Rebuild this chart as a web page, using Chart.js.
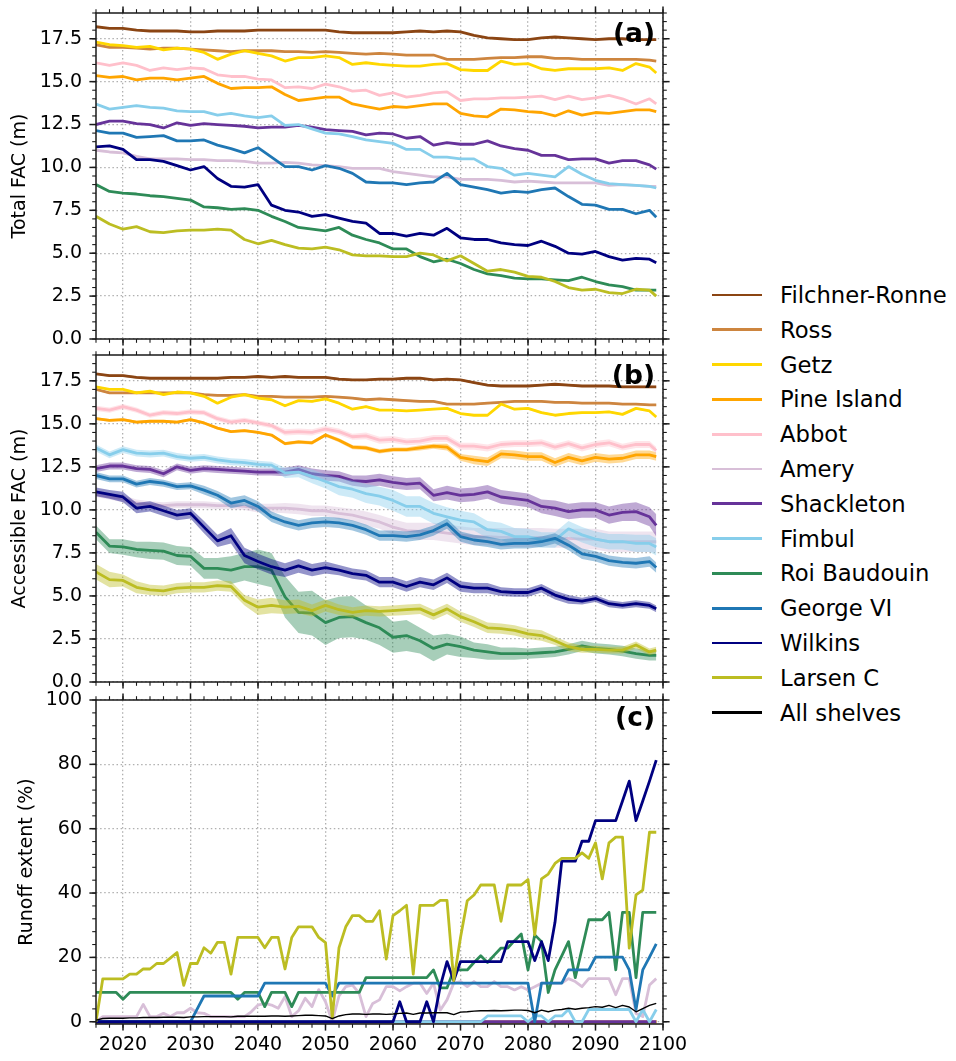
<!DOCTYPE html>
<html>
<head>
<meta charset="utf-8">
<title>Firn air content and runoff extent</title>
<script src="https://cdn.jsdelivr.net/npm/chart.js@4.4.1/dist/chart.umd.min.js"></script>
<style>
    body { margin: 0; background: #ffffff; }
    #figure { position: relative; width: 956px; height: 1061px; overflow: hidden; font-family: "DejaVu Sans", sans-serif; }
    #figure canvas { position: absolute; left: 0; }
    #legend { position: absolute; left: 712px; top: 0; width: 244px; height: 1061px; }
    .legend-row { position: absolute; left: 0; width: 244px; height: 30px; }
    .legend-line { position: absolute; left: 0; top: 13.6px; width: 50px; height: 2.8px; }
    .legend-text { position: absolute; left: 68px; top: 0; line-height: 30px; font-size: 22.7px; color: #000; white-space: nowrap; }
</style>
</head>
<body>
<div id="figure">
    <canvas id="chartTotal" width="700" height="352" style="top:0px;width:700px;height:352px"></canvas>
    <canvas id="chartAccess" width="700" height="350" style="top:345px;width:700px;height:350px"></canvas>
    <canvas id="chartRunoff" width="700" height="371" style="top:690px;width:700px;height:371px"></canvas>
    <div id="legend"></div>
</div>
<script>
// years for panels (a) and (b), read every second year
var yearsFac = [2016, 2018, 2020, 2022, 2024, 2026, 2028, 2030, 2032, 2034,
    2036, 2038, 2040, 2042, 2044, 2046, 2048, 2050, 2052, 2054,
    2056, 2058, 2060, 2062, 2064, 2066, 2068, 2070, 2072, 2074,
    2076, 2078, 2080, 2082, 2084, 2086, 2088, 2090, 2092, 2094,
    2096, 2098, 2099];

// years for panel (c), every year
var yearsRunoff = [2016, 2017, 2018, 2019, 2020, 2021, 2022, 2023, 2024, 2025,
    2026, 2027, 2028, 2029, 2030, 2031, 2032, 2033, 2034, 2035,
    2036, 2037, 2038, 2039, 2040, 2041, 2042, 2043, 2044, 2045,
    2046, 2047, 2048, 2049, 2050, 2051, 2052, 2053, 2054, 2055,
    2056, 2057, 2058, 2059, 2060, 2061, 2062, 2063, 2064, 2065,
    2066, 2067, 2068, 2069, 2070, 2071, 2072, 2073, 2074, 2075,
    2076, 2077, 2078, 2079, 2080, 2081, 2082, 2083, 2084, 2085,
    2086, 2087, 2088, 2089, 2090, 2091, 2092, 2093, 2094, 2095,
    2096, 2097, 2098, 2099];

var xTicks = [2020, 2030, 2040, 2050, 2060, 2070, 2080, 2090, 2100];
var facTicks = [0, 2.5, 5, 7.5, 10, 12.5, 15, 17.5];
var runoffTicks = [0, 20, 40, 60, 80, 100];

// (a) total FAC (m)
var totFR = [18.2, 18.1, 18.1, 18.0, 17.95, 17.95, 17.95, 17.9, 17.9, 17.95,
    17.95, 17.95, 18.0, 18.0, 18.0, 18.0, 18.0, 18.0, 17.9, 17.85,
    17.85, 17.85, 17.85, 17.9, 17.95, 17.9, 17.95, 17.9, 17.7, 17.55,
    17.5, 17.45, 17.45, 17.55, 17.6, 17.55, 17.5, 17.45, 17.5, 17.5,
    17.45, 17.45, 17.45];
var totRoss = [17.15, 17.0, 17.0, 16.95, 16.9, 16.95, 16.95, 16.9, 16.85, 16.8,
    16.75, 16.8, 16.8, 16.8, 16.75, 16.75, 16.7, 16.75, 16.7, 16.65,
    16.6, 16.65, 16.6, 16.55, 16.55, 16.55, 16.3, 16.3, 16.3, 16.35,
    16.4, 16.4, 16.45, 16.45, 16.35, 16.35, 16.3, 16.3, 16.3, 16.3,
    16.3, 16.25, 16.2];
var totGetz = [17.3, 17.15, 17.1, 17.0, 17.05, 16.85, 16.95, 16.9, 16.7, 16.3,
    16.6, 16.8, 16.65, 16.5, 16.2, 16.4, 16.4, 16.5, 16.4, 16.0,
    16.1, 16.0, 15.95, 15.9, 15.9, 16.0, 16.05, 15.7, 15.65, 15.65,
    16.2, 16.0, 16.05, 15.75, 15.65, 15.75, 15.75, 15.75, 15.8, 15.65,
    16.05, 15.85, 15.5];
var totPine = [15.35, 15.25, 15.3, 15.1, 15.2, 15.2, 15.1, 15.2, 15.3, 14.9,
    14.6, 14.65, 14.65, 14.7, 14.25, 13.9, 14.0, 14.1, 14.1, 13.7,
    13.55, 13.4, 13.55, 13.5, 13.6, 13.7, 13.7, 13.15, 13.0, 12.95,
    13.4, 13.35, 13.25, 13.2, 13.0, 13.3, 13.05, 13.2, 13.15, 13.25,
    13.35, 13.35, 13.25];
var totAbbot = [16.1, 15.95, 16.1, 15.95, 15.65, 15.8, 15.7, 15.8, 15.75, 15.4,
    15.3, 15.3, 15.15, 15.1, 14.65, 14.7, 14.6, 14.85, 14.7, 14.45,
    14.5, 14.2, 14.35, 14.1, 14.2, 14.35, 14.4, 13.9, 14.0, 14.0,
    14.05, 14.05, 14.1, 14.15, 13.95, 14.15, 13.95, 14.05, 14.2, 14.0,
    13.7, 14.0, 13.7];
var totAmery = [11.0, 10.9, 10.85, 10.65, 10.5, 10.5, 10.5, 10.45, 10.45, 10.4,
    10.4, 10.35, 10.25, 10.25, 10.3, 10.25, 10.15, 10.1, 10.05, 9.95,
    9.95, 9.95, 9.75, 9.65, 9.55, 9.45, 9.45, 9.3, 9.3, 9.3,
    9.25, 9.15, 9.2, 9.15, 9.1, 9.1, 9.1, 9.1, 8.95, 9.0,
    8.95, 8.9, 8.9];
var totShack = [12.5, 12.7, 12.7, 12.55, 12.5, 12.3, 12.6, 12.45, 12.55, 12.5,
    12.45, 12.4, 12.3, 12.35, 12.35, 12.45, 12.35, 12.2, 12.15, 12.1,
    11.9, 12.0, 11.95, 11.7, 11.8, 11.3, 11.45, 11.35, 11.35, 11.55,
    11.25, 11.1, 11.0, 10.7, 10.7, 10.45, 10.5, 10.5, 10.25, 10.4,
    10.4, 10.15, 9.9];
var totFimbul = [13.7, 13.4, 13.5, 13.6, 13.5, 13.45, 13.3, 13.25, 13.25, 13.05,
    13.15, 13.0, 12.9, 13.0, 12.45, 12.5, 12.25, 12.0, 11.95, 11.8,
    11.6, 11.5, 11.4, 11.05, 11.05, 10.6, 10.6, 10.5, 10.5, 10.05,
    9.95, 9.55, 9.65, 9.55, 9.45, 10.05, 9.6, 9.25, 9.05, 9.0,
    8.95, 8.9, 8.8];
var totRoi = [9.0, 8.6, 8.5, 8.45, 8.35, 8.3, 8.2, 8.1, 7.7, 7.65,
    7.55, 7.6, 7.5, 7.15, 6.85, 6.5, 6.4, 6.3, 6.5, 6.05,
    5.8, 5.6, 5.25, 5.25, 4.8, 4.5, 4.65, 4.4, 4.05, 3.8,
    3.7, 3.55, 3.5, 3.5, 3.45, 3.4, 3.6, 3.35, 3.15, 3.05,
    2.85, 2.85, 2.85];
var totGeorge = [12.15, 12.0, 12.0, 11.75, 11.8, 11.85, 11.55, 11.55, 11.6, 11.3,
    11.1, 10.85, 11.15, 10.6, 10.05, 10.05, 9.85, 10.1, 9.95, 9.65,
    9.15, 9.1, 9.1, 9.0, 9.1, 9.15, 9.65, 9.0, 8.85, 8.7,
    8.5, 8.6, 8.55, 8.7, 8.8, 8.3, 7.85, 7.8, 7.55, 7.55,
    7.3, 7.5, 7.1];
var totWilkins = [11.2, 11.25, 11.05, 10.45, 10.45, 10.35, 10.1, 9.85, 10.05, 9.35,
    8.9, 8.85, 9.0, 7.8, 7.5, 7.4, 7.15, 7.25, 7.05, 6.85,
    6.75, 6.15, 6.15, 6.0, 6.15, 6.05, 6.45, 5.9, 5.8, 5.8,
    5.6, 5.5, 5.45, 5.7, 5.4, 5.0, 4.95, 5.1, 4.8, 4.6,
    4.7, 4.65, 4.45];
var totLarsen = [7.15, 6.7, 6.4, 6.55, 6.25, 6.2, 6.3, 6.35, 6.35, 6.4,
    6.35, 5.8, 5.55, 5.75, 5.5, 5.3, 5.25, 5.35, 5.2, 4.9,
    4.85, 4.85, 4.8, 4.8, 5.0, 4.9, 4.55, 4.85, 4.4, 3.95,
    4.05, 3.9, 3.65, 3.6, 3.35, 3.0, 2.85, 2.9, 2.7, 2.65,
    2.9, 2.85, 2.5];

// (b) accessible FAC (m)
var accFR = [17.9, 17.8, 17.8, 17.7, 17.65, 17.65, 17.65, 17.65, 17.65, 17.65,
    17.7, 17.7, 17.75, 17.7, 17.75, 17.7, 17.7, 17.7, 17.6, 17.55,
    17.55, 17.6, 17.6, 17.65, 17.65, 17.55, 17.6, 17.55, 17.4, 17.25,
    17.2, 17.2, 17.2, 17.25, 17.3, 17.25, 17.2, 17.2, 17.2, 17.15,
    17.15, 17.15, 17.15];
var accRoss = [17.0, 16.8, 16.8, 16.8, 16.8, 16.8, 16.8, 16.8, 16.7, 16.65,
    16.65, 16.7, 16.6, 16.6, 16.55, 16.55, 16.55, 16.6, 16.55, 16.5,
    16.4, 16.45, 16.4, 16.35, 16.3, 16.3, 16.15, 16.15, 16.15, 16.2,
    16.25, 16.3, 16.3, 16.3, 16.25, 16.25, 16.2, 16.2, 16.2, 16.15,
    16.15, 16.1, 16.1];
var accGetz = [17.15, 17.0, 17.0, 16.8, 16.9, 16.7, 16.85, 16.8, 16.6, 16.2,
    16.55, 16.7, 16.5, 16.4, 16.05, 16.35, 16.3, 16.45, 16.2, 15.85,
    16.0, 15.8, 15.8, 15.75, 15.8, 15.85, 15.9, 15.6, 15.5, 15.5,
    16.15, 15.85, 15.9, 15.65, 15.5, 15.6, 15.65, 15.65, 15.7, 15.55,
    15.9, 15.75, 15.4];
var accPine = [15.3, 15.2, 15.25, 15.1, 15.15, 15.15, 15.1, 15.25, 15.05, 14.75,
    14.55, 14.6, 14.5, 14.35, 13.85, 13.95, 13.9, 14.35, 14.05, 13.65,
    13.6, 13.4, 13.5, 13.5, 13.6, 13.7, 13.65, 13.05, 12.9, 12.8,
    13.25, 13.2, 13.1, 13.1, 12.75, 13.05, 12.85, 13.05, 12.95, 13.0,
    13.2, 13.2, 13.1];
var accAbbot = [15.9, 15.8, 16.0, 15.8, 15.5, 15.65, 15.6, 15.7, 15.65, 15.3,
    15.1, 15.2, 15.05, 14.9, 14.5, 14.55, 14.5, 14.7, 14.55, 14.25,
    14.3, 14.05, 14.1, 13.95, 14.0, 14.15, 14.15, 13.7, 13.7, 13.6,
    13.8, 13.85, 13.85, 13.9, 13.65, 13.85, 13.6, 13.8, 13.9, 13.65,
    13.8, 13.8, 13.45];
var accAmery = [10.9, 10.75, 10.65, 10.4, 10.3, 10.25, 10.3, 10.3, 10.3, 10.25,
    10.25, 10.2, 10.1, 10.1, 10.1, 10.05, 9.95, 9.95, 9.8, 9.7,
    9.5, 9.3, 9.0, 8.8, 8.75, 8.75, 8.65, 8.55, 8.45, 8.45,
    8.4, 8.4, 8.4, 8.4, 8.35, 8.35, 8.3, 8.3, 8.15, 8.15,
    8.15, 8.15, 8.15];
var accShack = [12.4, 12.55, 12.55, 12.4, 12.35, 12.1, 12.5, 12.3, 12.4, 12.35,
    12.3, 12.25, 12.2, 12.2, 12.2, 12.35, 12.1, 12.0, 11.95, 11.7,
    11.65, 11.75, 11.6, 11.5, 11.55, 10.85, 11.0, 10.85, 10.9, 11.05,
    10.75, 10.65, 10.55, 10.2, 10.1, 9.9, 10.0, 10.0, 9.7, 9.85,
    9.9, 9.6, 9.1];
var accFimbul = [13.6, 13.2, 13.5, 13.3, 13.25, 13.3, 13.1, 13.0, 13.05, 12.9,
    12.8, 12.75, 12.65, 12.6, 12.15, 12.2, 11.95, 11.65, 11.35, 11.2,
    10.95, 10.8, 10.55, 10.2, 10.2, 9.8, 9.6, 9.4, 9.3, 8.85,
    8.75, 8.45, 8.45, 8.25, 8.25, 8.9, 8.55, 8.3, 8.15, 8.15,
    8.05, 8.05, 7.85];
var accRoi = [8.7, 7.9, 7.85, 7.7, 7.65, 7.6, 7.35, 7.3, 6.6, 6.6,
    6.5, 6.7, 6.7, 6.5, 4.95, 4.05, 4.0, 3.45, 3.75, 3.8,
    3.45, 3.15, 2.6, 2.7, 2.4, 1.95, 2.2, 2.05, 1.85, 1.75,
    1.65, 1.65, 1.65, 1.7, 1.75, 1.9, 2.1, 1.95, 1.9, 1.8,
    1.65, 1.55, 1.55];
var accGeorge = [12.0, 11.8, 11.8, 11.5, 11.65, 11.55, 11.35, 11.4, 11.15, 10.85,
    10.4, 10.55, 10.2, 9.6, 9.3, 9.1, 9.25, 9.3, 9.25, 9.1,
    8.85, 8.5, 8.5, 8.45, 8.55, 8.8, 9.2, 8.45, 8.25, 8.15,
    8.0, 8.05, 8.05, 8.15, 8.35, 7.95, 7.45, 7.3, 7.05, 6.95,
    6.9, 7.0, 6.65];
var accWilkins = [11.05, 10.9, 10.75, 10.1, 10.2, 9.95, 9.7, 9.8, 9.0, 8.2,
    8.5, 7.35, 7.0, 6.7, 6.5, 6.75, 6.5, 6.65, 6.5, 6.3,
    6.2, 5.8, 5.8, 5.55, 5.8, 5.65, 6.05, 5.55, 5.45, 5.45,
    5.25, 5.2, 5.2, 5.45, 5.05, 4.8, 4.7, 4.85, 4.55, 4.45,
    4.55, 4.45, 4.25];
var accLarsen = [6.4, 5.95, 5.9, 5.5, 5.35, 5.3, 5.45, 5.5, 5.5, 5.6,
    5.55, 4.75, 4.35, 4.45, 4.35, 4.4, 4.15, 4.45, 4.2, 4.05,
    4.15, 4.1, 4.15, 4.2, 4.25, 3.9, 4.25, 3.8, 3.5, 3.15,
    3.1, 3.0, 2.8, 2.7, 2.4, 2.05, 1.9, 1.9, 1.85, 1.85,
    2.15, 1.75, 1.85];

// (b) half width of the shaded range, one value per four years
var sprFR = [0.06, 0.06, 0.06, 0.06, 0.06, 0.06, 0.06, 0.06, 0.06, 0.06, 0.06,
    0.06, 0.06, 0.06, 0.06, 0.06, 0.06, 0.06, 0.06, 0.06, 0.06, 0.06];
var sprRoss = [0.06, 0.06, 0.06, 0.06, 0.06, 0.06, 0.06, 0.06, 0.06, 0.06, 0.06,
    0.06, 0.06, 0.06, 0.06, 0.06, 0.06, 0.06, 0.06, 0.06, 0.06, 0.06];
var sprGetz = [0.06, 0.06, 0.06, 0.06, 0.06, 0.06, 0.06, 0.06, 0.06, 0.06, 0.06,
    0.06, 0.06, 0.06, 0.06, 0.06, 0.06, 0.06, 0.06, 0.06, 0.06, 0.06];
var sprPine = [0.08, 0.08, 0.08, 0.08, 0.08, 0.08, 0.08, 0.1, 0.1, 0.12, 0.12,
    0.12, 0.15, 0.2, 0.25, 0.25, 0.25, 0.25, 0.25, 0.25, 0.25, 0.25];
var sprAbbot = [0.15, 0.15, 0.15, 0.15, 0.15, 0.15, 0.15, 0.18, 0.18, 0.18, 0.2,
    0.2, 0.2, 0.2, 0.2, 0.2, 0.2, 0.2, 0.2, 0.2, 0.2, 0.2];
var sprAmery = [0.15, 0.2, 0.2, 0.2, 0.2, 0.2, 0.25, 0.3, 0.3, 0.35, 0.4,
    0.45, 0.5, 0.5, 0.5, 0.55, 0.55, 0.55, 0.6, 0.6, 0.6, 0.6];
var sprShack = [0.2, 0.2, 0.2, 0.2, 0.2, 0.2, 0.2, 0.25, 0.3, 0.3, 0.35,
    0.35, 0.35, 0.4, 0.4, 0.4, 0.4, 0.45, 0.45, 0.5, 0.55, 0.65];
var sprFimbul = [0.2, 0.2, 0.2, 0.2, 0.2, 0.2, 0.2, 0.3, 0.4, 0.5, 0.55,
    0.6, 0.6, 0.55, 0.5, 0.5, 0.45, 0.45, 0.45, 0.45, 0.5, 0.5];
var sprRoi = [0.4, 0.45, 0.5, 0.55, 0.6, 0.8, 1.0, 1.2, 1.3, 1.2, 1.0,
    0.9, 0.75, 0.6, 0.45, 0.35, 0.3, 0.3, 0.3, 0.3, 0.3, 0.3];
var sprGeorge = [0.2, 0.2, 0.2, 0.2, 0.25, 0.3, 0.3, 0.3, 0.3, 0.3, 0.3,
    0.3, 0.3, 0.3, 0.3, 0.3, 0.3, 0.3, 0.3, 0.3, 0.3, 0.3];
var sprWilkins = [0.25, 0.3, 0.3, 0.3, 0.35, 0.45, 0.45, 0.4, 0.35, 0.3, 0.3,
    0.3, 0.3, 0.3, 0.3, 0.25, 0.25, 0.25, 0.2, 0.2, 0.2, 0.2];
var sprLarsen = [0.45, 0.35, 0.3, 0.3, 0.3, 0.3, 0.45, 0.4, 0.35, 0.3, 0.3,
    0.3, 0.3, 0.3, 0.3, 0.3, 0.3, 0.25, 0.2, 0.2, 0.2, 0.2];

// (c) runoff extent (%)
var runZero = [0, 0, 0, 0, 0, 0, 0, 0, 0, 0, 0, 0, 0, 0, 0, 0, 0, 0, 0, 0,
    0, 0, 0, 0, 0, 0, 0, 0, 0, 0, 0, 0, 0, 0, 0, 0, 0, 0, 0, 0,
    0, 0, 0, 0, 0, 0, 0, 0, 0, 0, 0, 0, 0, 0, 0, 0, 0, 0, 0, 0,
    0, 0, 0, 0, 0, 0, 0, 0, 0, 0, 0, 0, 0, 0, 0, 0, 0, 0, 0, 0,
    0, 0, 0, 0];
var runAmery = [0, 1.6, 1.6, 1.6, 1.6, 1.6, 1.6, 5.4, 1.6, 1.6,
    2.6, 1.6, 2.8, 2.8, 4.2, 2.8, 2.6, 1.6, 1.6, 1.6,
    1.6, 1.6, 1.6, 3.1, 5.2, 5.7, 5.2, 4.2, 7.8, 1.6,
    3.4, 7.3, 4.7, 10.0, 6.2, 0, 8.0, 10.9, 11.4, 8.8,
    1.6, 5.7, 6.8, 10.9, 10.9, 9.6, 10.9, 12.0, 12.0, 8.8,
    12.0, 3.6, 6.8, 12.0, 12.5, 10.9, 12.5, 10.9, 10.9, 12.5,
    10.9, 10.9, 9.9, 10.9, 9.9, 10.9, 12.0, 12.0, 12.0, 12.0,
    13.4, 12.5, 10.9, 13.4, 13.4, 13.4, 13.4, 8.4, 13.4, 13.4,
    2.6, 1.6, 11.4, 13.4];
var runFimbul = [0, 0, 0, 0, 0, 0, 0, 0, 0, 0,
    0, 0, 0, 0, 0, 0, 0, 0, 0, 0,
    0, 0, 0, 0, 0, 0, 0, 0, 0, 0,
    0, 0, 0, 0, 0, 0, 0, 0, 0, 0,
    0, 0, 0, 0, 0, 0, 0, 0, 0, 0,
    0, 0, 0, 0, 0, 0, 0, 0, 1.8, 1.8,
    1.8, 1.8, 1.8, 1.8, 0, 1.8, 1.8, 0, 1.8, 1.8,
    3.8, 0, 0, 3.8, 3.8, 3.8, 3.8, 3.8, 3.8, 3.8,
    0, 3.8, 0, 3.8];
var runRoi = [9.1, 9.1, 9.1, 9.1, 7.0, 9.1, 9.1, 9.1, 9.1, 9.1,
    9.1, 9.1, 9.1, 9.1, 9.1, 9.1, 9.1, 9.1, 9.1, 9.1,
    9.1, 7.0, 9.1, 9.1, 9.1, 4.7, 9.1, 9.1, 9.1, 4.7,
    9.1, 9.1, 9.1, 9.1, 9.1, 9.1, 9.1, 9.1, 9.1, 9.1,
    13.7, 13.7, 13.7, 13.7, 13.7, 13.7, 13.7, 13.7, 13.7, 13.7,
    16.1, 10.5, 10.5, 16.1, 16.1, 16.1, 18.4, 20.5, 18.4, 20.7,
    22.9, 22.9, 25.2, 27.3, 16.1, 27.0, 24.9, 9.1, 16.1, 20.5,
    24.9, 13.7, 22.7, 31.7, 31.7, 31.7, 34.0, 16.1, 34.0, 34.0,
    13.7, 34.0, 34.0, 34.0];
var runGeorge = [0, 0, 0, 0, 0, 0, 0, 0, 0, 0,
    0, 0, 0, 0, 0, 4.0, 8.0, 8.0, 8.0, 8.0,
    8.0, 8.0, 8.0, 8.0, 8.0, 12.0, 12.0, 12.0, 12.0, 12.0,
    12.0, 12.0, 12.0, 12.0, 12.0, 8.0, 12.0, 12.0, 12.0, 12.0,
    12.0, 12.0, 12.0, 12.0, 12.0, 12.0, 12.0, 12.0, 12.0, 12.0,
    12.0, 12.0, 12.0, 12.0, 12.0, 12.0, 12.0, 12.0, 12.0, 12.0,
    12.0, 12.0, 12.0, 12.0, 12.0, 0, 12.0, 12.0, 12.0, 12.0,
    16.1, 16.1, 16.1, 16.1, 20.1, 20.1, 20.1, 20.1, 20.1, 16.1,
    3.8, 16.1, 20.1, 24.2];
var runWilkins = [0, 0, 0, 0, 0, 0, 0, 0, 0, 0,
    0, 0, 0, 0, 0, 0, 0, 0, 0, 0,
    0, 0, 0, 0, 0, 0, 0, 0, 0, 0,
    0, 0, 0, 0, 0, 0, 0, 0, 0, 0,
    0, 0, 0, 0, 0, 6.2, 0, 0, 0, 6.2,
    0, 11.0, 18.7, 12.8, 18.7, 18.7, 18.7, 18.7, 18.7, 18.7,
    18.7, 24.9, 24.9, 24.9, 24.9, 19.0, 24.9, 19.0, 30.9, 49.9,
    49.9, 49.9, 56.1, 56.1, 62.5, 62.5, 62.5, 62.5, 68.6, 74.8,
    62.5, 68.6, 74.8, 81.3];
var runLarsen = [0, 13.3, 13.3, 13.3, 13.3, 14.8, 14.8, 16.4, 16.4, 18.1,
    18.1, 19.8, 21.5, 11.3, 18.1, 18.1, 23.0, 21.3, 24.7, 24.7,
    14.8, 26.2, 26.2, 26.2, 26.2, 23.0, 26.2, 26.2, 16.4, 26.2,
    29.5, 29.5, 29.5, 26.2, 24.6, 1.2, 23.0, 29.5, 33.0, 33.0,
    31.2, 31.2, 34.5, 19.5, 33.0, 34.5, 36.2, 14.8, 36.2, 36.2,
    36.2, 37.7, 37.7, 12.8, 26.2, 37.6, 39.4, 42.5, 42.5, 42.5,
    31.2, 42.5, 42.5, 42.5, 44.2, 27.0, 44.4, 45.9, 49.2, 50.8,
    50.8, 50.8, 52.5, 50.8, 55.6, 44.4, 55.6, 57.4, 57.4, 22.9,
    39.4, 40.9, 58.9, 58.9];
var runAll = [0.5, 1.0, 1.1, 1.1, 1.1, 1.2, 1.2, 1.3, 1.3, 1.3,
    1.4, 1.4, 1.4, 1.3, 1.5, 1.5, 1.6, 1.6, 1.6, 1.6,
    1.5, 1.7, 1.7, 1.7, 1.7, 1.7, 1.8, 1.8, 1.7, 1.8,
    1.9, 2.0, 2.0, 1.9, 1.8, 1.0, 1.8, 2.2, 2.4, 2.4,
    2.3, 2.4, 2.4, 2.3, 2.4, 2.6, 2.7, 2.3, 2.7, 2.7,
    2.8, 2.8, 2.8, 2.2, 3.0, 3.1, 3.3, 3.4, 3.4, 3.5,
    3.4, 3.5, 3.6, 3.6, 3.5, 2.8, 3.6, 3.1, 3.6, 3.8,
    4.2, 3.9, 4.2, 4.4, 4.7, 4.5, 5.1, 4.4, 5.1, 4.6,
    3.1, 4.1, 5.1, 5.7];

var shelves = [
    {name: 'Filchner-Ronne', color: '#8b4513', total: totFR, access: accFR, spread: sprFR, runoff: runZero},
    {name: 'Ross', color: '#cd853f', total: totRoss, access: accRoss, spread: sprRoss, runoff: runZero},
    {name: 'Getz', color: '#ffd700', total: totGetz, access: accGetz, spread: sprGetz, runoff: runZero},
    {name: 'Pine Island', color: '#ffa500', total: totPine, access: accPine, spread: sprPine, runoff: runZero},
    {name: 'Abbot', color: '#ffc0cb', total: totAbbot, access: accAbbot, spread: sprAbbot, runoff: runZero},
    {name: 'Amery', color: '#d8bfd8', total: totAmery, access: accAmery, spread: sprAmery, runoff: runAmery},
    {name: 'Shackleton', color: '#663399', total: totShack, access: accShack, spread: sprShack, runoff: runZero},
    {name: 'Fimbul', color: '#87ceeb', total: totFimbul, access: accFimbul, spread: sprFimbul, runoff: runFimbul},
    {name: 'Roi Baudouin', color: '#2e8b57', total: totRoi, access: accRoi, spread: sprRoi, runoff: runRoi},
    {name: 'George VI', color: '#1f77b4', total: totGeorge, access: accGeorge, spread: sprGeorge, runoff: runGeorge},
    {name: 'Wilkins', color: '#000080', total: totWilkins, access: accWilkins, spread: sprWilkins, runoff: runWilkins},
    {name: 'Larsen C', color: '#bcbd22', total: totLarsen, access: accLarsen, spread: sprLarsen, runoff: runLarsen}
];
var allShelves = {name: 'All shelves', color: '#000000', runoff: runAll};

Chart.defaults.font.family = '"DejaVu Sans", sans-serif';
Chart.defaults.color = '#000000';

// frame, ticks on all four sides (majors and minors) and the panel letter
var frameTicks = {
    id: 'frameTicks',
    afterDraw: function (chart, args, opts) {
        var ctx = chart.ctx;
        var area = chart.chartArea;
        var sx = chart.scales.x;
        var sy = chart.scales.y;
        var k, n, v, start;

        ctx.save();
        ctx.strokeStyle = '#1a1a1a';

        function seg(x1, y1, x2, y2, w) {
            ctx.lineWidth = w;
            ctx.beginPath();
            ctx.moveTo(x1, y1);
            ctx.lineTo(x2, y2);
            ctx.stroke();
        }
        function xTick(val, len, w) {
            var px = sx.getPixelForValue(val);
            seg(px, area.bottom, px, area.bottom + len, w);
            seg(px, area.top, px, area.top - len, w);
        }
        function yTick(val, len, w) {
            var py = sy.getPixelForValue(val);
            seg(area.left, py, area.left - len, py, w);
            seg(area.right, py, area.right + len, py, w);
        }

        n = Math.round((sx.max - sx.min) / opts.xMinor);
        for (k = 0; k <= n; k++) {
            v = sx.min + k * opts.xMinor;
            xTick(v, 3.8, 1.1);
        }
        start = Math.ceil(sy.min / opts.yMinor - 1e-9) * opts.yMinor;
        n = Math.round((sy.max - start) / opts.yMinor);
        for (k = 0; k <= n; k++) {
            v = start + k * opts.yMinor;
            if (v <= sy.max + 1e-9) yTick(v, 3.8, 1.1);
        }
        sx.ticks.forEach(function (t) { xTick(t.value, 6.6, 1.5); });
        sy.ticks.forEach(function (t) { yTick(t.value, 6.6, 1.5); });

        ctx.lineWidth = 1.5;
        ctx.strokeRect(area.left, area.top, area.right - area.left, area.bottom - area.top);

        ctx.fillStyle = '#000000';
        ctx.font = 'bold 26.5px "DejaVu Sans", sans-serif';
        ctx.textAlign = 'right';
        ctx.textBaseline = 'middle';
        ctx.fillText(opts.label, area.right - 8, area.top + opts.labelDy);
        ctx.restore();
    }
};

function toPoints(xs, ys) {
    var out = [];
    for (var i = 0; i < xs.length; i++) {
        out.push({x: xs[i], y: ys[i]});
    }
    return out;
}

function bandPoints(xs, ys, spread, sign) {
    var out = [];
    for (var i = 0; i < xs.length; i++) {
        var s = spread[Math.min(Math.floor(i / 2), spread.length - 1)];
        out.push({x: xs[i], y: ys[i] + sign * s});
    }
    return out;
}

function rgba(hex, a) {
    var r = parseInt(hex.substr(1, 2), 16);
    var g = parseInt(hex.substr(3, 2), 16);
    var b = parseInt(hex.substr(5, 2), 16);
    return 'rgba(' + r + ',' + g + ',' + b + ',' + a + ')';
}

function FacFigure() {
    this.seq = 0;
}

FacFigure.prototype.init = function () {
    this.checkData();
    this.drawTotal();
    this.drawAccess();
    this.drawRunoff();
    this.drawLegend();
};

FacFigure.prototype.checkData = function () {
    shelves.forEach(function (s) {
        if (s.total.length !== yearsFac.length || s.access.length !== yearsFac.length ||
            s.runoff.length !== yearsRunoff.length || s.spread.length !== 22) {
            throw new Error('bad length for ' + s.name + ' ' + s.total.length + ' ' +
                s.access.length + ' ' + s.runoff.length + ' ' + s.spread.length);
        }
    });
    if (runAll.length !== yearsRunoff.length) throw new Error('bad length runAll ' + runAll.length);
};

FacFigure.prototype.lineSet = function (label, color, data, width) {
    this.seq += 1;
    return {
        label: label,
        data: data,
        borderColor: color,
        backgroundColor: color,
        borderWidth: width,
        pointRadius: 0,
        tension: 0,
        fill: false,
        borderJoinStyle: 'round',
        order: 1000 - this.seq
    };
};

FacFigure.prototype.options = function (p) {
    return {
        responsive: false,
        animation: false,
        devicePixelRatio: 1,
        events: [],
        parsing: false,
        layout: {padding: {top: p.padTop, right: 37, bottom: 0, left: 0}},
        plugins: {
            legend: {display: false},
            tooltip: {enabled: false},
            frameTicks: {label: p.label, labelDy: p.labelDy, xMinor: 2, yMinor: p.yMinor}
        },
        scales: {
            x: {
                type: 'linear',
                min: 2016,
                max: 2100,
                afterFit: function (s) {
                    s.height = p.xHeight;
                    s.paddingLeft = 0;
                    s.paddingRight = 0;
                },
                afterBuildTicks: function (s) {
                    s.ticks = xTicks.map(function (v) { return {value: v}; });
                },
                ticks: {
                    display: p.showX,
                    padding: 10,
                    maxRotation: 0,
                    autoSkip: false,
                    color: '#000000',
                    font: {size: 19},
                    callback: function (v) { return String(v); }
                },
                grid: {color: '#b0b0b0', lineWidth: 1.3, drawTicks: false},
                border: {display: false, dash: [1.5, 2.6]}
            },
            y: {
                type: 'linear',
                min: p.yMin,
                max: p.yMax,
                afterFit: function (s) {
                    s.width = 96;
                    s.paddingTop = 0;
                    s.paddingBottom = 0;
                },
                afterBuildTicks: function (s) {
                    s.ticks = p.yTicks.map(function (v) { return {value: v}; });
                },
                ticks: {
                    padding: 14,
                    color: '#000000',
                    font: {size: 19},
                    callback: p.yFormat
                },
                grid: {color: '#b0b0b0', lineWidth: 1.3, drawTicks: false},
                border: {display: false, dash: [1.5, 2.6]},
                title: {
                    display: true,
                    text: p.yTitle,
                    color: '#000000',
                    font: {size: 19},
                    padding: {top: p.titlePad, bottom: 0}
                }
            }
        }
    };
};

FacFigure.prototype.drawTotal = function () {
    var obj = this;
    var sets = [];
    shelves.forEach(function (s) {
        sets.push(obj.lineSet(s.name, s.color, toPoints(yearsFac, s.total), 2.8));
    });
    new Chart(document.getElementById('chartTotal'), {
        type: 'line',
        data: {datasets: sets},
        options: obj.options({
            padTop: 13, xHeight: 13, showX: false, label: '(a)', labelDy: 22,
            yMin: 0, yMax: 19, yMinor: 0.5, yTicks: facTicks, yTitle: 'Total FAC (m)', titlePad: 9,
            yFormat: function (v) { return v.toFixed(1); }
        }),
        plugins: [frameTicks]
    });
};

FacFigure.prototype.drawAccess = function () {
    var obj = this;
    var sets = [];
    shelves.forEach(function (s) {
        var lower = obj.lineSet(s.name + ' low', 'rgba(0,0,0,0)', bandPoints(yearsFac, s.access, s.spread, -1), 0);
        var upper = obj.lineSet(s.name + ' high', 'rgba(0,0,0,0)', bandPoints(yearsFac, s.access, s.spread, 1), 0);
        upper.fill = '-1';
        upper.backgroundColor = rgba(s.color, 0.42);
        sets.push(lower);
        sets.push(upper);
        sets.push(obj.lineSet(s.name, s.color, toPoints(yearsFac, s.access), 2.8));
    });
    new Chart(document.getElementById('chartAccess'), {
        type: 'line',
        data: {datasets: sets},
        options: obj.options({
            padTop: 10, xHeight: 13, showX: false, label: '(b)', labelDy: 22,
            yMin: 0, yMax: 19, yMinor: 0.5, yTicks: facTicks, yTitle: 'Accessible FAC (m)', titlePad: 9,
            yFormat: function (v) { return v.toFixed(1); }
        }),
        plugins: [frameTicks]
    });
};

FacFigure.prototype.drawRunoff = function () {
    var obj = this;
    var sets = [];
    shelves.forEach(function (s) {
        sets.push(obj.lineSet(s.name, s.color, toPoints(yearsRunoff, s.runoff), 2.8));
    });
    sets.push(obj.lineSet(allShelves.name, allShelves.color, toPoints(yearsRunoff, allShelves.runoff), 1.4));
    new Chart(document.getElementById('chartRunoff'), {
        type: 'line',
        data: {datasets: sets},
        options: obj.options({
            padTop: 10, xHeight: 37, showX: true, label: '(c)', labelDy: 19,
            yMin: -0.7, yMax: 100, yMinor: 4, yTicks: runoffTicks, yTitle: 'Runoff extent (%)', titlePad: 16,
            yFormat: function (v) { return String(v); }
        }),
        plugins: [frameTicks]
    });
};

FacFigure.prototype.drawLegend = function () {
    var box = document.getElementById('legend');
    var items = shelves.concat([allShelves]);
    items.forEach(function (s, i) {
        var row = document.createElement('div');
        row.className = 'legend-row';
        row.style.top = (295 + 34.8 * i - 15) + 'px';
        var line = document.createElement('div');
        line.className = 'legend-line';
        line.style.background = s.color;
        var text = document.createElement('div');
        text.className = 'legend-text';
        text.textContent = s.name;
        row.appendChild(line);
        row.appendChild(text);
        box.appendChild(row);
    });
};

new FacFigure().init();
</script>
</body>
</html>
